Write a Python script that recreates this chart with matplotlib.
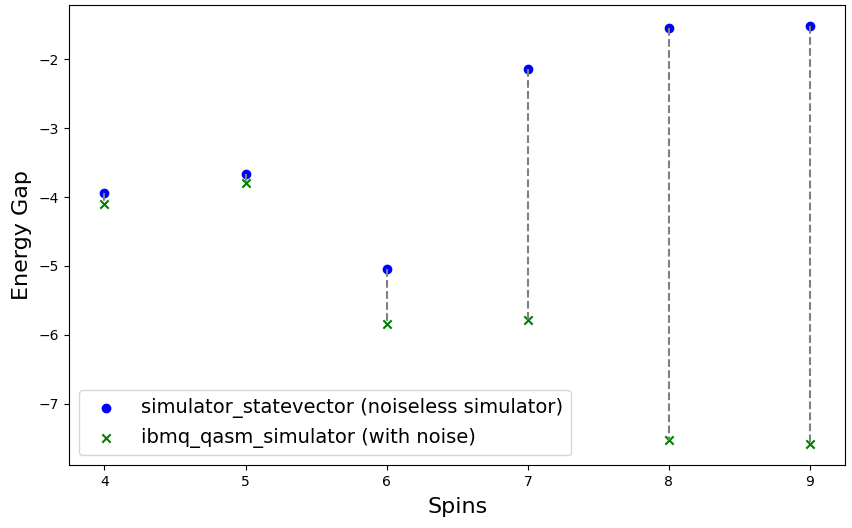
import matplotlib
matplotlib.use("Agg")
import matplotlib.pyplot as plt

spins = [4, 5, 6, 7, 8, 9]
noiseless = [-3.94, -3.67, -5.05, -2.145, -1.54, -1.51]
noisy = [-4.10, -3.79, -5.84, -5.79, -7.53, -7.59]

fig, ax = plt.subplots(figsize=(8.53, 5.28), dpi=100)
fig.subplots_adjust(left=0.081, right=0.991, top=0.991, bottom=0.119)

ax.scatter(spins, noiseless, color="blue", marker="o",
           label="simulator_statevector (noiseless simulator)")
ax.scatter(spins, noisy, color="green", marker="x",
           label="ibmq_qasm_simulator (with noise)")

for s, a, b in zip(spins, noiseless, noisy):
    ax.plot([s, s], [a, b], color="gray", linestyle="--")

ax.set_xlabel("Spins", fontsize=16, labelpad=6)
ax.set_ylabel("Energy Gap", fontsize=16, labelpad=5)
ax.legend(loc="lower left", fontsize=14)

fig.savefig("out.png", dpi=100)
